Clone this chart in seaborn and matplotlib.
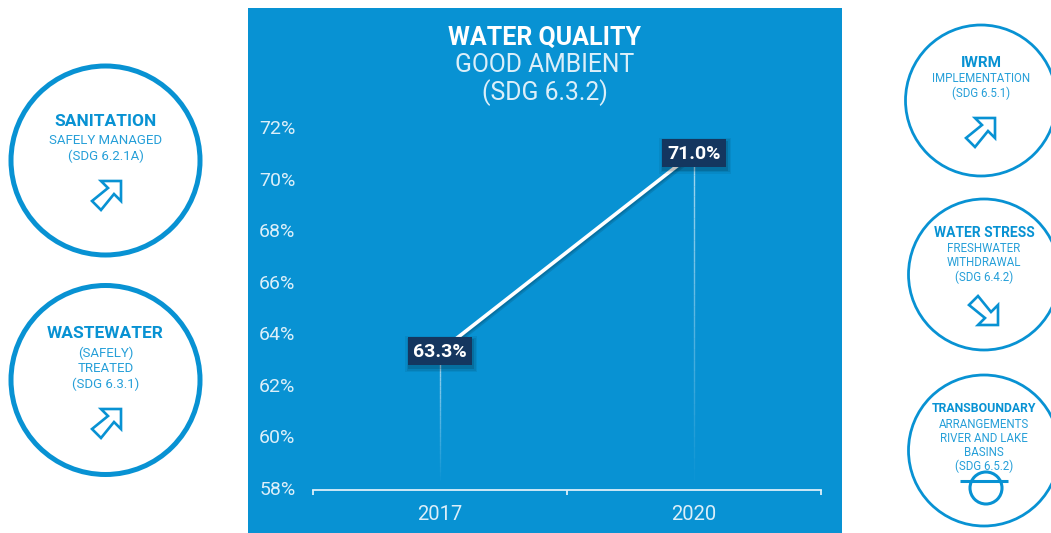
import numpy as np
import pandas as pd
import matplotlib
matplotlib.use("Agg")
import matplotlib.pyplot as plt
import matplotlib.patheffects as pe
from matplotlib.patches import Circle, Polygon, Rectangle
from matplotlib.transforms import IdentityTransform, ScaledTranslation
import seaborn as sns

years = ["2017", "2020"]
values = [63.3, 71.0]
value_labels = ["63.3%", "71.0%"]
y_ticks = [58, 60, 62, 64, 66, 68, 70, 72]

sns.set_theme(style="white")
plt.rcParams["font.family"] = ["Roboto", "DejaVu Sans"]

BLUE = "#0892D3"
NAVY = "#14365F"
LIGHT = "#DCEFF9"
W, H = 1051, 533

fig = plt.figure(figsize=(W / 100, H / 100), dpi=100, facecolor="white")

bg = fig.add_axes([0, 0, 1, 1])
bg.set_xlim(0, W)
bg.set_ylim(H, 0)
bg.axis("off")
bg.add_patch(Rectangle((248, 8), 594, 525, color=BLUE, lw=0))

ARROW = np.array([(0, 0), (-20, 0), (-13, 7), (-29, 20), (-20, 29), (-7, 13), (0, 20)], float)


def arrow(tx, ty, down=False):
    pts = ARROW.copy()
    if down:
        pts[:, 1] *= -1
    pts += (tx, ty)
    bg.add_patch(Polygon(pts, closed=True, fill=False, ec=BLUE, lw=1.9, joinstyle="miter"))


def badge(cx, cy, r, lw, lines):
    bg.add_patch(Circle((cx, cy), r, fill=False, ec=BLUE, lw=lw))
    for (txt, y, size, weight) in lines:
        bg.text(cx, y + 1, txt, ha="center", va="center", color=BLUE,
                fontsize=size, fontweight=weight, alpha=1 if weight == "bold" else .88)


badge(105.5, 160.5, 94.5, 3.6, [("SANITATION", 121, 12.5, "bold"),
                                ("SAFELY MANAGED", 139, 9.5, "normal"),
                                ("(SDG 6.2.1A)", 155, 9.5, "normal")])
arrow(121, 181)
badge(105.5, 380, 94.5, 3.6, [("WASTEWATER", 333, 12.5, "bold"),
                              ("(SAFELY)", 352, 9.5, "normal"),
                              ("TREATED", 367, 9.5, "normal"),
                              ("(SDG 6.3.1)", 383, 9.5, "normal")])
arrow(121, 409)
badge(981, 100.5, 75.5, 2, [("IWRM", 62, 11, "bold"),
                            ("IMPLEMENTATION", 78, 8.3, "normal"),
                            ("(SDG 6.5.1)", 92, 8.3, "normal")])
arrow(995, 118)
badge(984, 274.5, 75.5, 2, [("WATER STRESS", 232, 10, "bold"),
                            ("FRESHWATER", 248, 8.3, "normal"),
                            ("WITHDRAWAL", 262, 8.3, "normal"),
                            ("(SDG 6.4.2)", 276, 8.3, "normal")])
arrow(998, 325, down=True)
badge(984, 450.5, 75.5, 2, [("TRANSBOUNDARY", 408, 8.8, "bold"),
                            ("ARRANGEMENTS", 423, 8.3, "normal"),
                            ("RIVER AND LAKE", 437, 8.3, "normal"),
                            ("BASINS", 451, 8.3, "normal"),
                            ("(SDG 6.5.2)", 465, 8.3, "normal")])
bg.add_patch(Circle((986, 488), 16, fill=False, ec=BLUE, lw=2.2))
bg.plot([960, 1008], [481, 481], color=BLUE, lw=2.2, solid_capstyle="butt")

bg.text(545, 37.5, "WATER QUALITY", ha="center", va="center", color="white",
        fontsize=18, fontweight="bold")
bg.text(545, 65.5, "GOOD AMBIENT", ha="center", va="center", color=LIGHT, fontsize=17.8)
bg.text(545, 92.5, "(SDG 6.3.2)", ha="center", va="center", color=LIGHT, fontsize=17.8)

# Chart axes
ax = fig.add_axes([313 / W, 1 - 490 / H, (821 - 313) / W, (490 - 127) / H], facecolor="none")
df = pd.DataFrame({"pos": range(len(years)), "value": values})
shadow = [pe.SimpleLineShadow(offset=(1, -1.5), alpha=.12, shadow_color="black", linewidth=4),
          pe.SimpleLineShadow(offset=(0.5, -1), alpha=.12, shadow_color="black", linewidth=3),
          pe.Normal()]
sns.lineplot(data=df, x="pos", y="value", ax=ax, color="white", linewidth=2.6,
             path_effects=shadow, zorder=3)

ax.set_xlim(-0.5, 1.5)
ax.set_ylim(57.92, 72)
ax.set_xlabel("")
ax.set_ylabel("")

# Fading drop lines
for i, v in enumerate(values):
    edges = np.linspace(v, 58.3, 31)
    for j in range(30):
        ax.plot([i, i], edges[j:j + 2], color="white", lw=1,
                alpha=0.65 * (1 - j / 30), solid_capstyle="butt", zorder=2)

ax.set_yticks(y_ticks)
ax.set_yticklabels([f"{t}%" for t in y_ticks], color=LIGHT, fontsize=14)
ax.set_xticks(range(len(years)))
ax.set_xticklabels(years, color=LIGHT, fontsize=14.5)
ax.set_xticks([-0.5, 0.5, 1.5], minor=True)
ax.tick_params(axis="y", length=0, pad=12.7)
ax.tick_params(axis="x", which="major", length=0, pad=10.5)
ax.tick_params(axis="x", which="minor", bottom=True, length=3.6, width=1.3, color=LIGHT, direction="out")
for s in ["top", "left", "right"]:
    ax.spines[s].set_visible(False)
ax.spines["bottom"].set_color(LIGHT)
ax.spines["bottom"].set_linewidth(1.3)

# Value labels: box, soft shadow (pixel offsets around each data point), text
for i, (v, lab) in enumerate(zip(values, value_labels)):
    anchor = IdentityTransform() + ScaledTranslation(i, v, ax.transData)
    for grow, a in [(4, .06), (2.5, .08), (1, .12)]:
        ax.add_patch(Rectangle((-32 - grow + 1, -14 - grow - 3), 64 + 2 * grow, 28 + 2 * grow,
                               transform=anchor, fc="black", ec="none", alpha=a, zorder=4))
    ax.add_patch(Rectangle((-32, -14), 64, 28, transform=anchor, fc=NAVY, ec="none", zorder=4.5))
    ax.annotate(lab, (i, v), xytext=(0, -0.6), textcoords="offset points", ha="center", va="center",
                color="white", fontsize=14, fontweight="bold", zorder=5)

fig.savefig("out.png", dpi=100, facecolor="white")
